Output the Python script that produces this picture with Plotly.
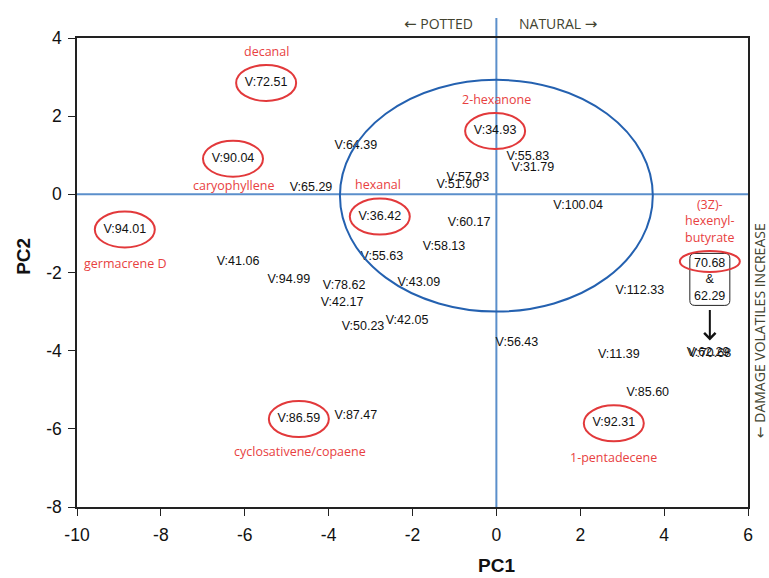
import plotly.graph_objects as go

# ---------------- data ----------------
point_labels = [
    "V:72.51", "V:90.04", "V:94.01", "V:64.39", "V:65.29", "V:36.42",
    "V:34.93", "V:55.83", "V:31.79", "V:57.93", "V:51.90", "V:100.04",
    "V:60.17", "V:58.13", "V:55.63", "V:43.09", "V:41.06", "V:94.99",
    "V:78.62", "V:42.17", "V:50.23", "V:42.05", "V:86.59", "V:87.47",
    "V:56.43", "V:112.33", "V:11.39", "V:85.60", "V:92.31",
    "V:70.68", "V:62.29",
]
pc1 = [
    -5.49, -6.28, -8.86, -3.35, -4.42, -2.78,
    -0.03, 0.75, 0.87, -0.68, -0.92, 1.95,
    -0.65, -1.25, -2.73, -1.85, -6.16, -4.95,
    -3.63, -3.68, -3.18, -2.13, -4.71, -3.35,
    0.49, 3.42, 2.92, 3.61, 2.80,
    5.09, 5.05,
]
pc2 = [
    2.85, 0.91, -0.90, 1.24, 0.17, -0.57,
    1.62, 0.96, 0.68, 0.42, 0.25, -0.29,
    -0.72, -1.34, -1.59, -2.26, -1.72, -2.20,
    -2.33, -2.77, -3.40, -3.25, -5.75, -5.68,
    -3.81, -2.46, -4.12, -5.09, -5.86,
    -4.07, -4.06,
]

highlight_labels = ["V:72.51", "V:90.04", "V:94.01", "V:36.42", "V:34.93", "V:86.59", "V:92.31"]
highlight_names = ["decanal", "caryophyllene", "germacrene D", "hexanal", "2-hexanone",
                   "cyclosativene/copaene", "1-pentadecene"]

pair_values = ["70.68", "62.29"]
pair_name = "(3Z)-<br>hexenyl-<br>butyrate"

x_ticks = [-10, -8, -6, -4, -2, 0, 2, 4, 6]
y_ticks = [4, 2, 0, -2, -4, -6, -8]

# ---------------- layout geometry ----------------
W, H = 769, 578
ML, MR, MT, MB = 77, 21, 38, 71
XR = (-10, 6)
YR = (-8, 4)
px_x = (W - ML - MR) / (XR[1] - XR[0])
px_y = (H - MT - MB) / (YR[1] - YR[0])


def dx(p):
    return p / px_x


def dy(p):
    return p / px_y


RED = "#E2393B"
RED_TXT = "#E8413F"
LINE_BLUE = "#5B8FCB"
ELL_BLUE = "#2461B0"
LABEL_FONT = "Liberation Sans, Arial, sans-serif"
NAME_FONT = "Open Sans, sans-serif"
ARROW_L = '<span style="font-family:DejaVu Sans;font-size:15px">\u2190</span>'
ARROW_R = '<span style="font-family:DejaVu Sans;font-size:15px">\u2192</span>'

fig = go.Figure()

fig.add_trace(go.Scatter(
    x=pc1, y=pc2, mode="text", text=point_labels,
    textposition="middle center",
    textfont=dict(family=LABEL_FONT, size=12.5, color="#111111"),
    hoverinfo="text", showlegend=False, cliponaxis=False,
))

shapes = []
annotations = []

# cross lines
shapes.append(dict(type="line", xref="x", yref="y", x0=XR[0], x1=XR[1], y0=0, y1=0,
                   line=dict(color=LINE_BLUE, width=2), layer="below"))
x0_paper = (0 - XR[0]) / (XR[1] - XR[0])
shapes.append(dict(type="line", xref="paper", yref="paper", x0=x0_paper, x1=x0_paper,
                   y0=0, y1=1 + 20 / (H - MT - MB),
                   line=dict(color=LINE_BLUE, width=2), layer="below"))

# big ellipse
shapes.append(dict(type="circle", xref="x", yref="y", x0=-3.73, x1=3.73, y0=-3.0, y1=2.93,
                   line=dict(color=ELL_BLUE, width=2)))

# highlighted labels: red ellipses + names
name_shift = [31, -27, -34, 32, 32, -32, -34]
name_xshift = [0, 0, 1, -2, 1, 1, 0]
for lab, name, ys, xs in zip(highlight_labels, highlight_names, name_shift, name_xshift):
    i = point_labels.index(lab)
    cx, cy = pc1[i], pc2[i]
    shapes.append(dict(type="circle", xref="x", yref="y",
                       x0=cx - dx(30), x1=cx + dx(30), y0=cy - dy(18), y1=cy + dy(18),
                       line=dict(color=RED, width=2)))
    annotations.append(dict(x=cx, y=cy, xref="x", yref="y", text=name, showarrow=False,
                            yshift=ys, xshift=xs,
                            font=dict(family=NAME_FONT, size=12.5, color=RED_TXT)))

# pair box (70.68 & 62.29)
i = point_labels.index("V:70.68")
bx, by = pc1[i], pc2[i] + dy(74)
hw, hh, r = dx(20), dy(26), 5
rx_, ry_ = dx(r), dy(r)
path = (f"M {bx-hw+rx_},{by+hh} L {bx+hw-rx_},{by+hh} Q {bx+hw},{by+hh} {bx+hw},{by+hh-ry_} "
        f"L {bx+hw},{by-hh+ry_} Q {bx+hw},{by-hh} {bx+hw-rx_},{by-hh} "
        f"L {bx-hw+rx_},{by-hh} Q {bx-hw},{by-hh} {bx-hw},{by-hh+ry_} "
        f"L {bx-hw},{by+hh-ry_} Q {bx-hw},{by+hh} {bx-hw+rx_},{by+hh} Z")
shapes.append(dict(type="path", xref="x", yref="y", path=path,
                   line=dict(color="#222222", width=1), fillcolor="white"))
annotations.append(dict(x=bx, y=by, xref="x", yref="y",
                        text=f"{pair_values[0]}<br>&<br>{pair_values[1]}",
                        showarrow=False,
                        font=dict(family=LABEL_FONT, size=12.5, color="#111111")))
ey = by + dy(18)
shapes.append(dict(type="circle", xref="x", yref="y",
                   x0=bx - dx(30), x1=bx + dx(30), y0=ey - dy(10.5), y1=ey + dy(10.5),
                   line=dict(color=RED, width=2)))
annotations.append(dict(x=bx, y=by, xref="x", yref="y", text=pair_name, showarrow=False,
                        yshift=58, align="center",
                        font=dict(family=NAME_FONT, size=12.5, color=RED_TXT)))
# arrow
annotations.append(dict(x=bx, y=pc2[i] + dy(13), xref="x", yref="y", text="",
                        showarrow=True, ax=0, ay=-32, arrowhead=4, arrowsize=1.1,
                        arrowwidth=2, arrowcolor="#111111"))

# top / side annotations
GRAY = "#42432F"
annotations.append(dict(x=x0_paper, y=1 + 14 / (H - MT - MB), xref="paper", yref="paper",
                        text=ARROW_L + " POTTED", showarrow=False, xanchor="right",
                        yanchor="middle", xshift=-21,
                        font=dict(family=NAME_FONT, size=14, color=GRAY)))
annotations.append(dict(x=x0_paper, y=1 + 14 / (H - MT - MB), xref="paper", yref="paper",
                        text="NATURAL " + ARROW_R, showarrow=False, xanchor="left",
                        yanchor="middle", xshift=21,
                        font=dict(family=NAME_FONT, size=14, color=GRAY)))
annotations.append(dict(x=1, y=0.375, xref="paper", yref="paper",
                        text='<span style="font-family:DejaVu Sans;font-size:14px">\u2190</span>'
                             " DAMAGE VOLATILES INCREASE",
                        showarrow=False, textangle=-90,
                        xanchor="center", yanchor="middle", xshift=11,
                        font=dict(family=NAME_FONT, size=14, color=GRAY)))

# axis titles
annotations.append(dict(x=x0_paper, y=0, xref="paper", yref="paper", text="<b>PC1</b>",
                        showarrow=False, yanchor="middle", yshift=-58,
                        font=dict(family=LABEL_FONT, size=19, color="#111111")))
annotations.append(dict(x=0, y=(0 - YR[0] - 1.6) / (YR[1] - YR[0]), xref="paper", yref="paper",
                        text="<b>PC2</b>", showarrow=False, textangle=-90, xanchor="center",
                        xshift=-53,
                        font=dict(family=LABEL_FONT, size=19, color="#111111")))

axis_common = dict(showgrid=False, zeroline=False, showline=True, mirror=True,
                   linecolor="#222222", linewidth=1.5, ticks="outside", ticklen=7,
                   tickwidth=1.2, tickcolor="#222222",
                   tickfont=dict(family=LABEL_FONT, size=17.5, color="#111111"))

fig.update_layout(
    width=W, height=H,
    margin=dict(l=ML, r=MR, t=MT, b=MB),
    paper_bgcolor="white", plot_bgcolor="white",
    xaxis=dict(range=list(XR), tickvals=x_ticks, ticktext=[str(v) for v in x_ticks],
               ticklabelstandoff=4, **axis_common),
    yaxis=dict(range=list(YR), tickvals=y_ticks, ticktext=[str(v) for v in y_ticks],
               ticklabelstandoff=3, **axis_common),
    shapes=shapes, annotations=annotations, showlegend=False,
)

fig.write_html("out.html")
